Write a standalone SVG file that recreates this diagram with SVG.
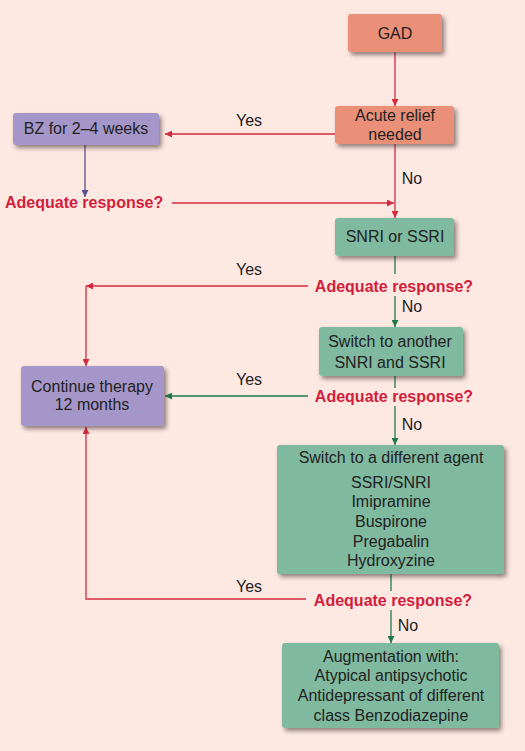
<svg xmlns="http://www.w3.org/2000/svg" width="525" height="751" viewBox="0 0 525 751">
<style>
text{font-family:"Liberation Sans",Arial,sans-serif;font-size:16px;fill:#222;text-anchor:middle}
.q{font-weight:bold;fill:#d21e3c}
.red{stroke:#d42a40;stroke-width:1.3;fill:none}
.grn{stroke:#1f7a4a;stroke-width:1.3;fill:none}
.pur{stroke:#5d4f92;stroke-width:1.3;fill:none}
.sal{fill:#ea8f78}
.vio{fill:#a596c9}
.gr{fill:#7fb9a0}
</style>
<defs>
<filter id="sh" x="-10%" y="-10%" width="130%" height="140%">
<feDropShadow dx="2.5" dy="3" stdDeviation="2" flood-color="#3a2a2a" flood-opacity="0.55"/>
</filter>
<marker id="ar" viewBox="0 0 10 10" refX="10" refY="5" markerWidth="7" markerHeight="7" orient="auto" markerUnits="userSpaceOnUse"><path d="M0,0L10,5L0,10z" fill="#d42a40"/></marker>
<marker id="ag" viewBox="0 0 10 10" refX="10" refY="5" markerWidth="7" markerHeight="7" orient="auto" markerUnits="userSpaceOnUse"><path d="M0,0L10,5L0,10z" fill="#1f7a4a"/></marker>
<marker id="ap" viewBox="0 0 10 10" refX="10" refY="5" markerWidth="7" markerHeight="7" orient="auto" markerUnits="userSpaceOnUse"><path d="M0,0L10,5L0,10z" fill="#5d4f92"/></marker>
</defs>
<rect width="525" height="751" fill="#fde8e2"/>
<g id="connectors">
<line class="red" x1="395" y1="52" x2="395" y2="106" marker-end="url(#ar)"/>
<line class="red" x1="335" y1="134" x2="165" y2="134" marker-end="url(#ar)"/>
<line class="pur" x1="85" y1="145" x2="85" y2="197" marker-end="url(#ap)"/>
<line class="red" x1="172" y1="203" x2="394" y2="203" marker-end="url(#ar)"/>
<line class="red" x1="395" y1="144" x2="395" y2="218" marker-end="url(#ar)"/>
<line class="grn" x1="395" y1="256" x2="395" y2="274"/>
<line class="grn" x1="395" y1="296" x2="395" y2="327" marker-end="url(#ag)"/>
<line class="red" x1="308" y1="286" x2="86" y2="286" marker-end="url(#ar)"/>
<line class="red" x1="86" y1="286" x2="86" y2="366" marker-end="url(#ar)"/>
<line class="grn" x1="395" y1="376" x2="395" y2="388"/>
<line class="grn" x1="308" y1="396" x2="165" y2="396" marker-end="url(#ag)"/>
<line class="grn" x1="395" y1="406" x2="395" y2="445" marker-end="url(#ag)"/>
<line class="grn" x1="391" y1="574" x2="391" y2="591"/>
<polyline class="red" points="306,599 86,599 86,427" marker-end="url(#ar)"/>
<line class="grn" x1="391" y1="610" x2="391" y2="643" marker-end="url(#ag)"/>
</g>
<g id="gad"><rect class="sal" x="348" y="14" width="94" height="38" rx="3" filter="url(#sh)"/><text x="395" y="39">GAD</text></g>
<g id="acute"><rect class="sal" x="335" y="106" width="119" height="38" rx="3" filter="url(#sh)"/><text x="395" y="121">Acute relief</text><text x="395" y="140">needed</text></g>
<g id="bz"><rect class="vio" x="13" y="113" width="146" height="32" rx="3" filter="url(#sh)"/><text x="86" y="134">BZ for 2–4 weeks</text></g>
<g id="q1"><text class="q" x="5" y="208" style="text-anchor:start">Adequate response?</text></g>
<g id="snri"><rect class="gr" x="335" y="218" width="119" height="38" rx="3" filter="url(#sh)"/><text x="395" y="242">SNRI or SSRI</text></g>
<g id="q2"><text class="q" x="394" y="292">Adequate response?</text></g>
<g id="switch"><rect class="gr" x="319" y="327" width="144" height="49" rx="3" filter="url(#sh)"/><text x="390" y="347">Switch to another</text><text x="390" y="368">SNRI and SSRI</text></g>
<g id="continue"><rect class="vio" x="21" y="366" width="143" height="60" rx="3" filter="url(#sh)"/><text x="92" y="392">Continue therapy</text><text x="92" y="410">12 months</text></g>
<g id="q3"><text class="q" x="394" y="402">Adequate response?</text></g>
<g id="different"><rect class="gr" x="277" y="445" width="227" height="129" rx="3" filter="url(#sh)"/>
<text x="391" y="463">Switch to a different agent</text>
<text x="391" y="488">SSRI/SNRI</text>
<text x="391" y="507">Imipramine</text>
<text x="391" y="527">Buspirone</text>
<text x="391" y="547">Pregabalin</text>
<text x="391" y="566">Hydroxyzine</text></g>
<g id="q4"><text class="q" x="393" y="606">Adequate response?</text></g>
<g id="aug"><rect class="gr" x="282" y="643" width="217" height="85" rx="3" filter="url(#sh)"/>
<text x="391" y="662">Augmentation with:</text>
<text x="391" y="681">Atypical antipsychotic</text>
<text x="391" y="701">Antidepressant of different</text>
<text x="391" y="721">class Benzodiazepine</text></g>
<g id="labels">
<text x="249" y="126">Yes</text>
<text x="412" y="184">No</text>
<text x="249" y="275">Yes</text>
<text x="412" y="312">No</text>
<text x="249" y="385">Yes</text>
<text x="412" y="430">No</text>
<text x="249" y="592">Yes</text>
<text x="408" y="631">No</text>
</g>
</svg>
